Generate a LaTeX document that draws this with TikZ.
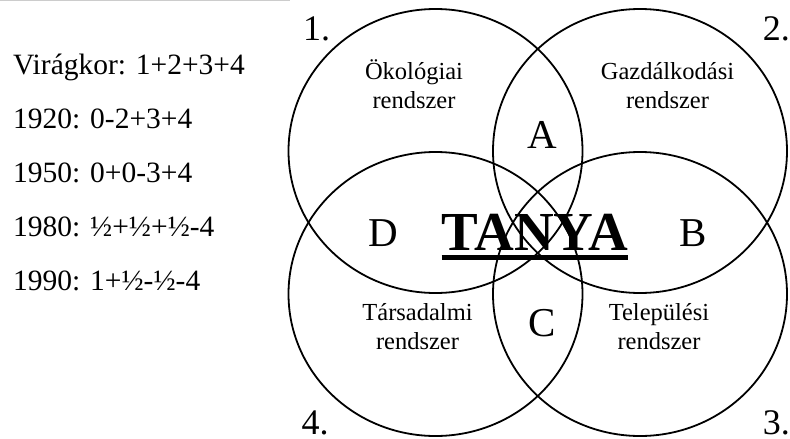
\documentclass[tikz,border=0pt]{standalone}
\usepackage{fontspec}
\setmainfont{Liberation Serif}
\newfontfamily\tanyafont{Liberation Serif Bold}
\usetikzlibrary{shapes.geometric,calc}
\begin{document}
\begin{tikzpicture}[x=1pt,y=-1pt,
  ring/.style={draw, line width=1.8pt, ellipse, minimum width=294pt, minimum height=284pt, inner sep=0pt, outer sep=0pt},
  lefttxt/.style={anchor=base west, inner sep=0pt, font=\fontsize{29.5}{30}\selectfont},
  sys/.style={anchor=base, align=center, inner sep=0pt, font=\fontsize{24.5}{29}\selectfont},
  letter/.style={anchor=base, inner sep=0pt, font=\fontsize{41}{41}\selectfont},
  num/.style={inner sep=0pt, font=\fontsize{36}{36}\selectfont}]
\useasboundingbox (0,0) rectangle (790,439);
\draw[black!20, line width=1pt] (0,0.5) -- (290,0.5);
% rings
\node[ring] (c1) at (435.5,151) {};
\node[ring] (c2) at (640,151) {};
\node[ring] (c3) at (640,294) {};
\node[ring] (c4) at (435.5,294) {};
% left column
\node[lefttxt] (t0) at (13,74) {Virágkor: 1+2+3+4};
\node[lefttxt] (t1) at (13,128) {1920: 0-2+3+4};
\node[lefttxt] (t2) at (13,182) {1950: 0+0-3+4};
\node[lefttxt] (t3) at (13,236) {1980: ½+½+½-4};
\node[lefttxt] (t4) at (13,290) {1990: 1+½-½-4};
% system labels
\node[sys] (s1) at (414,108) {Ökológiai\\rendszer};
\node[sys] (s2) at (667.5,108) {Gazdálkodási\\rendszer};
\node[sys] (s4) at (417.5,349) {Társadalmi\\rendszer};
\node[sys] (s3) at (659,349) {Települési\\rendszer};
% letters
\node[letter] (A) at (542,148) {A};
\node[letter] (C) at (542.5,336) {C};
\node[letter] (D) at (383,246) {D};
\node[letter] (B) at (693,246) {B};
\node[anchor=base, inner sep=0pt, font={\tanyafont\fontsize{55}{55}\selectfont}] (tanya) at (535,250) {TANYA};
\draw[line width=5pt] ($(tanya.base west)+(0,7.5)$) -- ($(tanya.base east)+(0,7.5)$);
% numbers
\node[num, anchor=base west] (n1) at (303,40) {1.};
\node[num, anchor=base east] (n2) at (790,40) {2.};
\node[num, anchor=base east] (n3) at (790,434) {3.};
\node[num, anchor=base west] (n4) at (301.5,434) {4.};
\end{tikzpicture}
\end{document}
